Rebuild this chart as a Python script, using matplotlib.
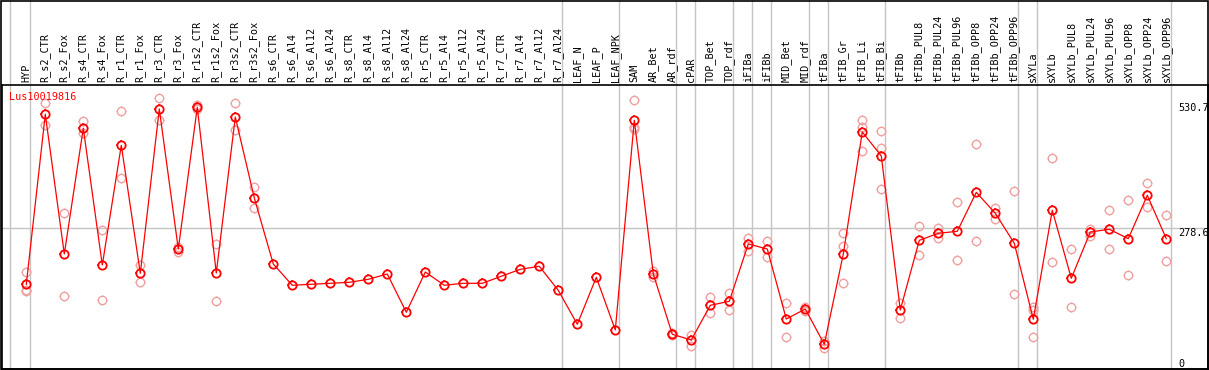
import matplotlib
matplotlib.use("Agg")
import matplotlib.pyplot as plt
import matplotlib.transforms as mtransforms
from matplotlib.path import Path
from matplotlib.patches import Rectangle
import numpy as np

# ---------------- data ----------------
categories = [
    "HYP", "R_s2_CTR", "R_s2_Fox", "R_s4_CTR", "R_s4_Fox", "R_r1_CTR", "R_r1_Fox",
    "R_r3_CTR", "R_r3_Fox", "R_r1s2_CTR", "R_r1s2_Fox", "R_r3s2_CTR", "R_r3s2_Fox",
    "R_s6_CTR", "R_s6_Al4", "R_s6_Al12", "R_s6_Al24", "R_s8_CTR", "R_s8_Al4",
    "R_s8_Al12", "R_s8_Al24", "R_r5_CTR", "R_r5_Al4", "R_r5_Al12", "R_r5_Al24",
    "R_r7_CTR", "R_r7_Al4", "R_r7_Al12", "R_r7_Al24", "LEAF_N", "LEAF_P", "LEAF_NPK",
    "SAM", "AR_Bet", "AR_rdf", "cPAR", "TOP_Bet", "TOP_rdf", "iFIBa", "iFIBb",
    "MID_Bet", "MID_rdf", "tFIBa", "tFIB_Gr", "tFIB_Li", "tFIB_Bi", "tFIBb",
    "tFIBb_PUL8", "tFIBb_PUL24", "tFIBb_PUL96", "tFIBb_OPP8", "tFIBb_OPP24",
    "tFIBb_OPP96", "sXYLa", "sXYLb", "sXYLb_PUL8", "sXYLb_PUL24", "sXYLb_PUL96",
    "sXYLb_OPP8", "sXYLb_OPP24", "sXYLb_OPP96",
]

means = [
    164.8, 508.5, 226.0, 480.2, 203.8, 445.8, 187.0, 519.2, 236.1, 522.6, 187.6,
    503.0, 339.3, 205.8, 162.8, 164.8, 166.8, 168.8, 174.9, 185.6, 108.2, 189.6,
    162.8, 166.8, 166.8, 181.0, 195.1, 201.2, 152.6, 83.9, 178.9, 72.4, 496.4,
    185.6, 63.7, 52.2, 122.3, 130.4, 246.3, 236.1, 94.6, 114.8, 43.5, 226.0,
    472.7, 424.2, 112.8, 253.7, 267.9, 271.9, 350.8, 308.3, 247.7, 94.0, 314.4,
    176.9, 270.5, 276.0, 257.0, 344.7, 257.0,
]

replicates = [
    [190.2, 153.3, 151.2], [530.7, 486.8], [309.5, 140.5], [494.9, 470.1],
    [274.0, 132.4], [514.5, 379.1], [203.8, 168.8], [540.8, 497.0],
    [240.8, 229.5], [526.3, 519.2], [246.3, 131.0], [530.7, 476.7],
    [360.9, 318.4], [], [], [], [], [], [], [], [], [], [], [], [], [], [], [], [],
    [], [], [], [536.8, 483.4, 478.8], [191.7, 178.9], [66.0, 61.4],
    [62.3, 40.0], [138.5, 106.1], [147.2, 113.4], [258.4, 232.7], [251.7, 219.4],
    [126.4, 58.8], [118.0, 111.6], [50.7, 36.6], [267.9, 242.2, 167.4],
    [496.4, 483.4, 433.7], [474.1, 439.7, 356.8], [127.6, 97.2], [282.0, 223.4],
    [278.0, 259.0], [330.6, 213.3], [447.8, 251.7], [319.0, 297.4],
    [353.4, 144.6], [118.3, 112.8, 57.6], [419.5, 209.3], [235.5, 118.3],
    [276.0, 263.0], [314.4, 236.1], [334.6, 183.0], [369.0, 320.5],
    [304.3, 211.3],
]

gene_name = "Lus10019816"
axis_ticks = [530.7, 278.6, 0]
separators = [-0.84, 0.21, 28.21, 31.21, 34.21, 35.21, 37.21, 38.21, 39.21,
              41.21, 42.21, 45.21, 52.21, 53.21, 60.23]

# ---------------- figure ----------------
W, H = 1209, 370
fig = plt.figure(figsize=(W / 100, H / 100), dpi=100)
ax = fig.add_axes([1.5 / W, 1 / H, (1208 - 1.5) / W, (369 - 85) / H])

x = np.arange(len(categories))

# small tick marks around circle markers
tv = [(0, 1), (0, 1.3), (0, -1), (0, -1.3), (1, 0), (1.3, 0), (-1, 0), (-1.3, 0)]
tc = [Path.MOVETO, Path.LINETO] * 4
ticks_marker = Path(tv, tc)

circle_ms = 6.0
tick_ms = circle_ms * 1.3

red = "#ff0000"
pink = "#f0a0a0"
grey = "#c4c4c4"
mono = "DejaVu Sans Mono"

# separators & reference line
for s in separators:
    ax.axvline(s, ymin=0, ymax=369 / 284, color=grey, lw=1.0, clip_on=False, zorder=1)
ax.axhline(278.6, color=grey, lw=1.0, zorder=1)

# replicates
rx, ry = [], []
for i, reps in enumerate(replicates):
    for r in reps:
        rx.append(i)
        ry.append(r)
ax.plot(rx, ry, linestyle="none", marker="o", markersize=circle_ms, mfc="none",
        mec=pink, mew=1.0, zorder=2)
ax.plot(rx, ry, linestyle="none", marker=ticks_marker, markersize=tick_ms,
        mec=pink, mew=0.9, zorder=2)

# mean series
ax.plot(x, means, color=red, lw=0.9, zorder=3)
ax.plot(x, means, linestyle="none", marker="o", markersize=circle_ms, mfc="none",
        mec=red, mew=1.3, zorder=4)
ax.plot(x, means, linestyle="none", marker=ticks_marker, markersize=tick_ms,
        mec=red, mew=1.1, zorder=4)

# limits (pixel matched)
ax.set_xlim(-1.305, 62.195)
ax.set_ylim(-6.47, 567.7)

# category labels on top
ax.xaxis.tick_top()
ax.set_xticks(x)
ax.set_xticklabels(categories, rotation=90, fontsize=7.3, family=mono,
                   va="bottom", ha="center")
ax.tick_params(axis="x", length=0, pad=2.0)
ax.set_yticks([])

for sp in ax.spines.values():
    sp.set_linewidth(1.2)
    sp.set_color("black")

# right-hand value labels
trans = mtransforms.blended_transform_factory(ax.transAxes, ax.transData)
ax.text(0.9752, axis_ticks[0], f"{axis_ticks[0]}", transform=trans, va="top", ha="left",
        fontsize=7.3, family=mono)
ax.text(0.9752, axis_ticks[1], f"{axis_ticks[1]}", transform=trans, va="top", ha="left",
        fontsize=7.3, family=mono)
ax.text(0.9752, -2.5, f"{axis_ticks[2]}", transform=trans, va="baseline", ha="left",
        fontsize=7.3, family=mono)

# gene name
ax.text(8.0 / 1206.5, 1 - 7.0 / 284, gene_name, transform=ax.transAxes, va="top",
        ha="left", fontsize=7.3, family=mono, color=red)

# outer frame
fig.patches.append(Rectangle((1.0 / W, 0.6 / H), (1208 - 1.0) / W, (369.4 - 0.6) / H,
                             transform=fig.transFigure, fill=False, ec="black",
                             lw=1.2, zorder=10))

fig.savefig("out.png", dpi=100)
